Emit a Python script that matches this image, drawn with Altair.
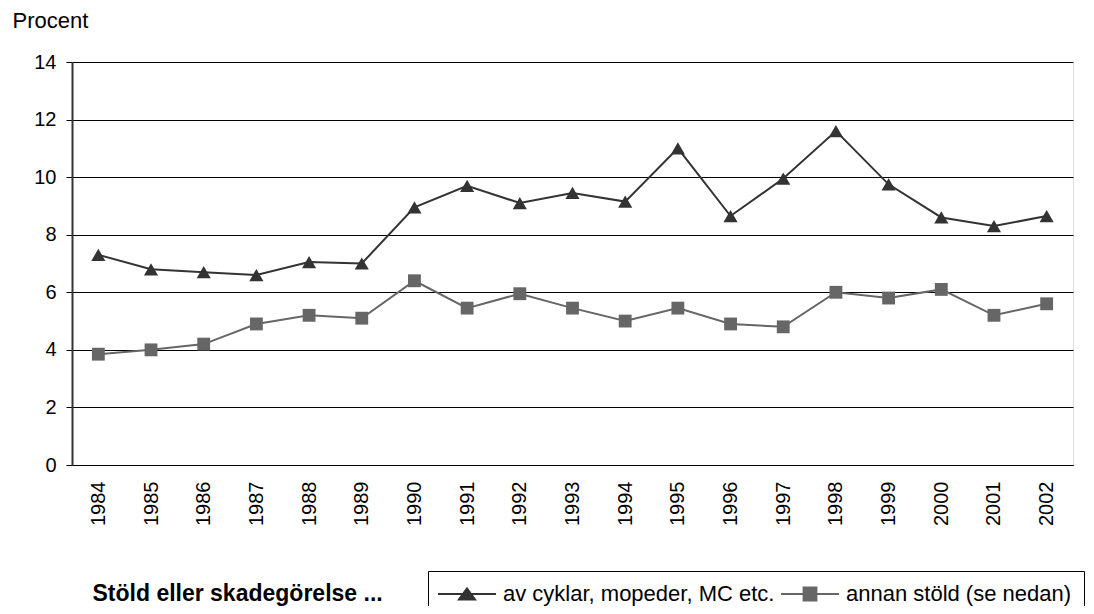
import altair as alt
import pandas as pd

years = ["1984", "1985", "1986", "1987", "1988", "1989", "1990", "1991", "1992", "1993",
         "1994", "1995", "1996", "1997", "1998", "1999", "2000", "2001", "2002"]
cyklar = [7.3, 6.8, 6.7, 6.6, 7.05, 7.0, 8.95, 9.7, 9.1, 9.45,
          9.15, 11.0, 8.65, 9.95, 11.6, 9.75, 8.6, 8.3, 8.65]
annan = [3.85, 4.0, 4.2, 4.9, 5.2, 5.1, 6.4, 5.45, 5.95, 5.45,
         5.0, 5.45, 4.9, 4.8, 6.0, 5.8, 6.1, 5.2, 5.6]
series_names = ["av cyklar, mopeder, MC etc.", "annan stöld (se nedan)"]
series_colors = ["#333333", "#666666"]
y_ticks = [0, 2, 4, 6, 8, 10, 12, 14]

rows = []
for yr, v in zip(years, cyklar):
    rows.append({"year": yr, "value": v, "series": series_names[0]})
for yr, v in zip(years, annan):
    rows.append({"year": yr, "value": v, "series": series_names[1]})
df = pd.DataFrame(rows)

FONT = "Liberation Sans"

x = alt.X("year:O", sort=years,
          axis=alt.Axis(title="Stöld eller skadegörelse ...", labelAngle=270,
                        labelAlign="right", labelBaseline="middle", labelPadding=16,
                        ticks=False, domainColor="#000000", domainWidth=1,
                        labelFontSize=20, labelColor="#000000", labelFont=FONT,
                        titleFont=FONT, titleFontSize=23, titleFontWeight="bold",
                        titleColor="#000000", titleAnchor="start", titleAlign="left",
                        titleBaseline="middle", titleX=20, titleY=128))
y = alt.Y("value:Q", scale=alt.Scale(domain=[0, 14], nice=False),
          axis=alt.Axis(values=y_ticks, title="Procent", titleAngle=0, titleAlign="left",
                        titleBaseline="middle", titleX=-60, titleY=-42,
                        titleFont=FONT, titleFontSize=22, titleFontWeight="normal",
                        titleColor="#000000", labelFont=FONT, labelFontSize=20,
                        labelColor="#000000", labelPadding=10, tickSize=6,
                        tickColor="#000000", domainColor="#333333", domainWidth=2,
                        grid=True, gridColor="#000000", gridWidth=1))

legend_paths = [
    "M-3.625,0H3.625M-1,0.68L0,-0.7L1,0.68Z",
    "M-3.625,0H3.625M-0.8,-0.8H0.8V0.8H-0.8Z",
]

color_scale = alt.Scale(domain=series_names, range=series_colors)
shape_scale = alt.Scale(domain=series_names, range=legend_paths)

legend_props = dict(title=None, orient="none", legendX=356, legendY=509,
                    direction="horizontal", padding=12, strokeColor="#000000",
                    fillColor="#ffffff", symbolSize=256, symbolStrokeWidth=2,
                    symbolOffset=16, labelOffset=25, columnPadding=2,
                    labelFont=FONT, labelFontSize=22, labelColor="#000000",
                    labelLimit=500, symbolOpacity=1)

base = alt.Chart(df)

lines = base.mark_line(strokeWidth=2).encode(
    x=x, y=y, color=alt.Color("series:N", scale=color_scale, legend=None))

tri = base.transform_filter(alt.datum.series == series_names[0]).mark_point(
    shape="triangle-up", filled=True, size=200, opacity=1).encode(
    x=x, y=y, color=alt.Color("series:N", scale=color_scale, legend=None))

sq = base.transform_filter(alt.datum.series == series_names[1]).mark_point(
    shape="square", filled=True, size=165, opacity=1).encode(
    x=x, y=y, color=alt.Color("series:N", scale=color_scale, legend=None))

leg = base.mark_point(filled=True, opacity=0).encode(
    x=x, y=y,
    color=alt.Color("series:N", scale=color_scale, legend=alt.Legend(**legend_props)),
    shape=alt.Shape("series:N", scale=shape_scale, legend=alt.Legend(**legend_props)))

chart = alt.layer(leg, lines, tri, sq).properties(
    width=1001, height=403,
    autosize=alt.AutoSizeParams(type="none"),
    padding={"left": 64, "top": 54, "right": 13, "bottom": 141},
).configure_view(stroke="#777777", strokeWidth=2).configure(background="#ffffff")

chart.save("out.html", embed_options={"renderer": "svg", "actions": False})
